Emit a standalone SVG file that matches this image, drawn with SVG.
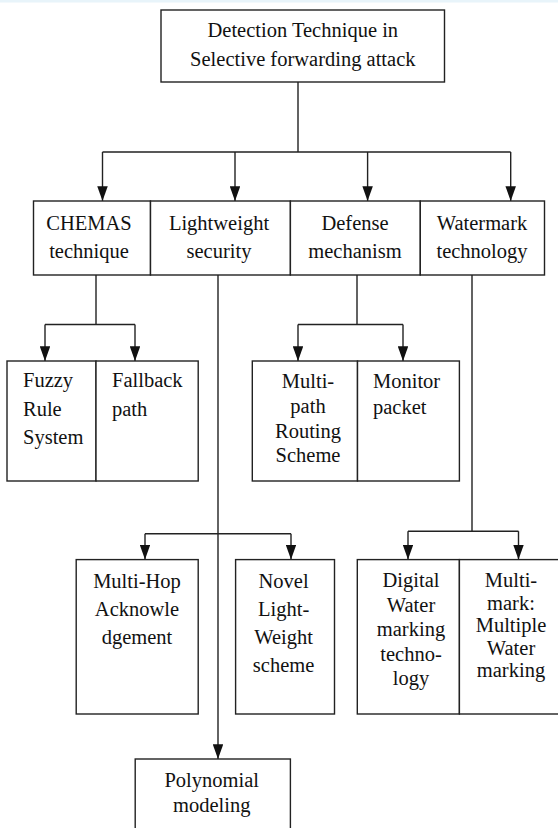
<svg xmlns="http://www.w3.org/2000/svg" width="558" height="828" viewBox="0 0 558 828">
<defs>
<marker id="arr" viewBox="0 0 10 14" refX="5" refY="14" markerWidth="10.5" markerHeight="15" markerUnits="userSpaceOnUse" orient="0">
<path d="M0,0 L10,0 L5,14 z" fill="#111"/>
</marker>
</defs>
<rect x="0" y="0" width="558" height="828" fill="#ffffff"/>
<rect x="0" y="0" width="558" height="2.5" fill="#e8f4fa"/>

<g id="connectors" fill="none" stroke="#222" stroke-width="1.4">
<path d="M298,82 V152 M102.5,152 H510.7"/>
<line marker-end="url(#arr)" x1="102.5" y1="152" x2="102.5" y2="201"/>
<line marker-end="url(#arr)" x1="235" y1="152" x2="235" y2="201"/>
<line marker-end="url(#arr)" x1="367.6" y1="152" x2="367.6" y2="201"/>
<line marker-end="url(#arr)" x1="510.7" y1="152" x2="510.7" y2="201"/>
<path d="M96,275 V324.5 M45,324.5 H135"/>
<line marker-end="url(#arr)" x1="45" y1="324.5" x2="45" y2="361"/>
<line marker-end="url(#arr)" x1="135" y1="324.5" x2="135" y2="361"/>
<path d="M357,275 V324.5 M298,324.5 H403"/>
<line marker-end="url(#arr)" x1="298" y1="324.5" x2="298" y2="361"/>
<line marker-end="url(#arr)" x1="403" y1="324.5" x2="403" y2="361"/>
<line marker-end="url(#arr)" x1="218" y1="275" x2="218" y2="759"/>
<path d="M145,533.7 H291"/>
<line marker-end="url(#arr)" x1="145" y1="533.7" x2="145" y2="559.6"/>
<line marker-end="url(#arr)" x1="291" y1="533.7" x2="291" y2="559.6"/>
<path d="M472,275 V531.2 M408,531.2 H518.5"/>
<line marker-end="url(#arr)" x1="408" y1="531.2" x2="408" y2="559.6"/>
<line marker-end="url(#arr)" x1="518.5" y1="531.2" x2="518.5" y2="559.6"/>
</g>

<g id="boxes" fill="#ffffff" stroke="#222" stroke-width="1.4">
<rect id="root-box" x="161" y="10" width="283.5" height="72"/>
<rect id="chemas-box" x="33.5" y="201" width="117" height="74"/>
<rect id="lightweight-box" x="150.5" y="201" width="139.9" height="74"/>
<rect id="defense-box" x="290.4" y="201" width="129.9" height="74"/>
<rect id="watermark-box" x="420.3" y="201" width="124.2" height="74"/>
<rect id="fuzzy-box" x="7" y="361" width="89" height="120"/>
<rect id="fallback-box" x="96" y="361" width="102.2" height="120"/>
<rect id="multipath-box" x="252.3" y="361" width="105.2" height="120"/>
<rect id="monitor-box" x="357.5" y="361" width="101.9" height="120"/>
<rect id="multihop-box" x="76.2" y="559.6" width="122" height="154.4"/>
<rect id="novel-box" x="235.6" y="559.6" width="98.9" height="154.4"/>
<rect id="digital-box" x="357.3" y="559.6" width="102.1" height="154.4"/>
<rect id="multimark-box" x="459.4" y="559.6" width="110" height="154.4"/>
<rect id="polynomial-box" x="135.2" y="759" width="155.2" height="90"/>
</g>

<g id="root" fill="#111" text-anchor="middle">
<text font-family="Liberation Serif" font-size="20.5" x="302.8" y="37.4">Detection Technique in</text>
<text font-family="Liberation Serif" font-size="20.5" x="302.8" y="65.8">Selective forwarding attack</text>
</g>
<g id="chemas" fill="#111" text-anchor="middle">
<text font-family="Liberation Serif" font-size="20.5" x="89" y="229.5">CHEMAS</text>
<text font-family="Liberation Serif" font-size="20.5" x="89" y="258">technique</text>
</g>
<g id="lightweight" fill="#111" text-anchor="middle">
<text font-family="Liberation Serif" font-size="20.5" x="219" y="229.5">Lightweight</text>
<text font-family="Liberation Serif" font-size="20.5" x="219" y="258">security</text>
</g>
<g id="defense" fill="#111" text-anchor="middle">
<text font-family="Liberation Serif" font-size="20.5" x="355" y="229.5">Defense</text>
<text font-family="Liberation Serif" font-size="20.5" x="355" y="258">mechanism</text>
</g>
<g id="watermark" fill="#111" text-anchor="middle">
<text font-family="Liberation Serif" font-size="20.5" x="482" y="229.5">Watermark</text>
<text font-family="Liberation Serif" font-size="20.5" x="482" y="258">technology</text>
</g>
<g id="fuzzy" fill="#111">
<text font-family="Liberation Serif" font-size="20.5" x="23" y="387">Fuzzy</text>
<text font-family="Liberation Serif" font-size="20.5" x="23" y="415.5">Rule</text>
<text font-family="Liberation Serif" font-size="20.5" x="23" y="444">System</text>
</g>
<g id="fallback" fill="#111">
<text font-family="Liberation Serif" font-size="20.5" x="112" y="387">Fallback</text>
<text font-family="Liberation Serif" font-size="20.5" x="112" y="415.5">path</text>
</g>
<g id="multipath" fill="#111" text-anchor="middle">
<text font-family="Liberation Serif" font-size="20.5" x="308" y="388">Multi-</text>
<text font-family="Liberation Serif" font-size="20.5" x="308" y="413">path</text>
<text font-family="Liberation Serif" font-size="20.5" x="308" y="437.5">Routing</text>
<text font-family="Liberation Serif" font-size="20.5" x="308" y="462">Scheme</text>
</g>
<g id="monitor" fill="#111">
<text font-family="Liberation Serif" font-size="20.5" x="373" y="388">Monitor</text>
<text font-family="Liberation Serif" font-size="20.5" x="373" y="414">packet</text>
</g>
<g id="multihop" fill="#111" text-anchor="middle">
<text font-family="Liberation Serif" font-size="20.5" x="137" y="588">Multi-Hop</text>
<text font-family="Liberation Serif" font-size="20.5" x="137" y="616">Acknowle</text>
<text font-family="Liberation Serif" font-size="20.5" x="137" y="644">dgement</text>
</g>
<g id="novel" fill="#111" text-anchor="middle">
<text font-family="Liberation Serif" font-size="20.5" x="283.6" y="588">Novel</text>
<text font-family="Liberation Serif" font-size="20.5" x="283.6" y="616">Light-</text>
<text font-family="Liberation Serif" font-size="20.5" x="283.6" y="644">Weight</text>
<text font-family="Liberation Serif" font-size="20.5" x="283.6" y="672">scheme</text>
</g>
<g id="digital" fill="#111" text-anchor="middle">
<text font-family="Liberation Serif" font-size="20.5" x="411" y="587">Digital</text>
<text font-family="Liberation Serif" font-size="20.5" x="411" y="611.5">Water</text>
<text font-family="Liberation Serif" font-size="20.5" x="411" y="636">marking</text>
<text font-family="Liberation Serif" font-size="20.5" x="411" y="660.5">techno-</text>
<text font-family="Liberation Serif" font-size="20.5" x="411" y="685">logy</text>
</g>
<g id="multimark" fill="#111" text-anchor="middle">
<text font-family="Liberation Serif" font-size="20.5" x="511" y="587">Multi-</text>
<text font-family="Liberation Serif" font-size="20.5" x="511" y="609.5">mark:</text>
<text font-family="Liberation Serif" font-size="20.5" x="511" y="632">Multiple</text>
<text font-family="Liberation Serif" font-size="20.5" x="511" y="654.5">Water</text>
<text font-family="Liberation Serif" font-size="20.5" x="511" y="677">marking</text>
</g>
<g id="polynomial" fill="#111" text-anchor="middle">
<text font-family="Liberation Serif" font-size="20.5" x="211.7" y="786.6">Polynomial</text>
<text font-family="Liberation Serif" font-size="20.5" x="211.7" y="812">modeling</text>
</g>
</svg>
